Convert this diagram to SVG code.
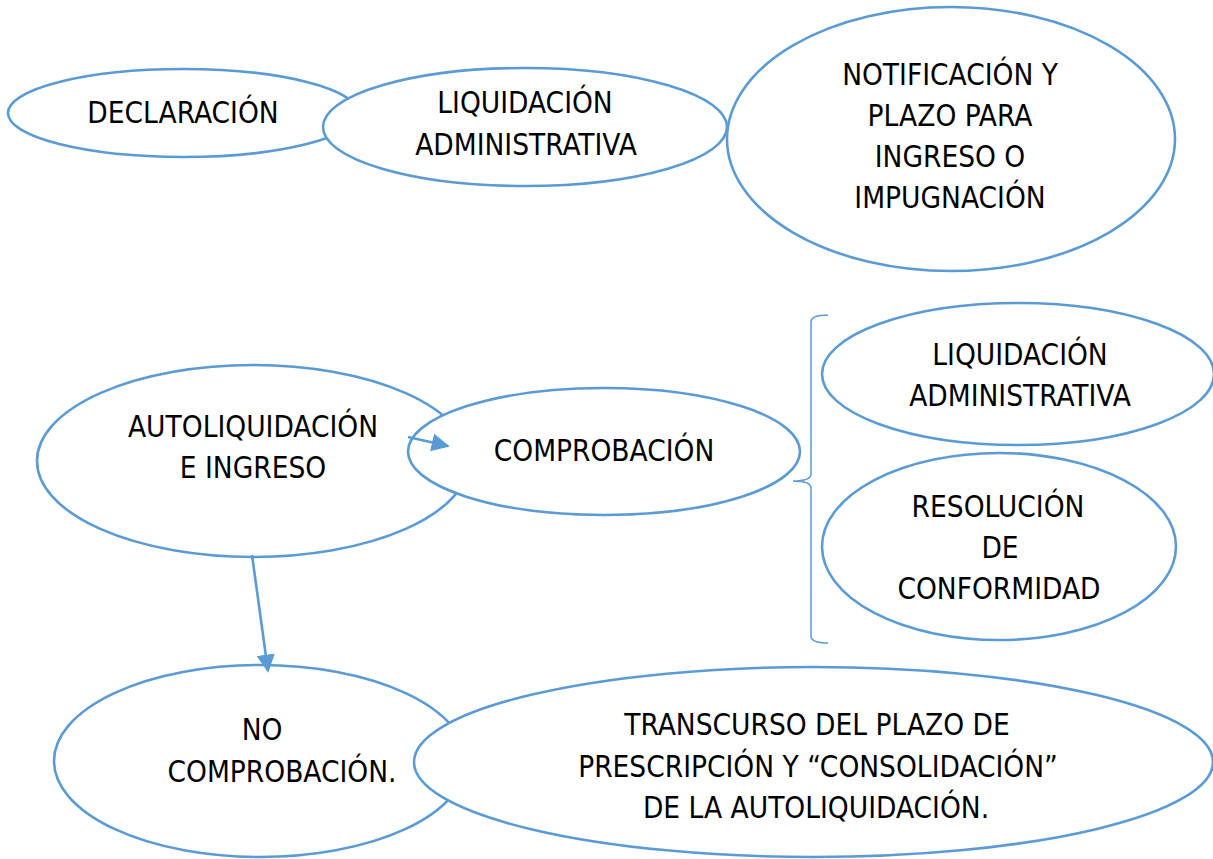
<svg xmlns="http://www.w3.org/2000/svg" width="1213" height="859" viewBox="0 0 1213 859">
<style>
.n{fill:#fff;stroke:#5B9BD5;stroke-width:2.6}
.t{font-family:"DejaVu Sans Condensed","DejaVu Sans",sans-serif;font-size:29.5px;fill:#000;text-anchor:middle}
.c{stroke:#5B9BD5;stroke-width:2.6;fill:none}
</style>
<defs>
<marker id="ah" viewBox="0 0 10 10" refX="9" refY="5" markerWidth="7" markerHeight="7" markerUnits="strokeWidth" orient="auto">
<path d="M0,0 L10,5 L0,10 z" fill="#5B9BD5"/>
</marker>
</defs>
<rect width="1213" height="859" fill="#fff"/>
<g id="declaracion"><ellipse class="n" cx="183" cy="113" rx="175" ry="44"/><text class="t" x="183" y="123">DECLARACIÓN</text></g>
<g id="liquidacion1"><ellipse class="n" cx="525" cy="127" rx="202" ry="59"/><text class="t" x="525" y="113">LIQUIDACIÓN</text><text class="t" x="526" y="155">ADMINISTRATIVA</text></g>
<g id="notificacion"><ellipse class="n" cx="951" cy="139" rx="224" ry="132"/><text class="t" x="950" y="85">NOTIFICACIÓN Y</text><text class="t" x="950" y="126">PLAZO PARA</text><text class="t" x="950" y="167">INGRESO O</text><text class="t" x="950" y="208">IMPUGNACIÓN</text></g>
<g id="autoliquidacion"><ellipse class="n" cx="253" cy="461" rx="216" ry="96"/><text class="t" x="253" y="437">AUTOLIQUIDACIÓN</text><text class="t" x="253" y="478">E INGRESO</text></g>
<g id="comprobacion"><ellipse class="n" cx="604" cy="451.5" rx="196" ry="63.5"/><text class="t" x="604" y="461">COMPROBACIÓN</text></g>
<g id="liquidacion2"><ellipse class="n" cx="1018" cy="374" rx="196" ry="71"/><text class="t" x="1020" y="365">LIQUIDACIÓN</text><text class="t" x="1020" y="406">ADMINISTRATIVA</text></g>
<g id="resolucion"><ellipse class="n" cx="999" cy="546.5" rx="177" ry="93.5"/><text class="t" x="998" y="517">RESOLUCIÓN</text><text class="t" x="1000" y="558">DE</text><text class="t" x="999" y="599">CONFORMIDAD</text></g>
<g id="nocomprobacion"><ellipse class="n" cx="260" cy="761" rx="206" ry="96"/><text class="t" x="262" y="740">NO</text><text class="t" x="282" y="782">COMPROBACIÓN.</text></g>
<g id="transcurso"><ellipse class="n" cx="813.5" cy="762" rx="399.5" ry="95"/><text class="t" x="817" y="735">TRANSCURSO DEL PLAZO DE</text><text class="t" x="818" y="777">PRESCRIPCIÓN Y “CONSOLIDACIÓN”</text><text class="t" x="816" y="818">DE LA AUTOLIQUIDACIÓN.</text></g>
<g id="connectors">
<line class="c" x1="408" y1="437" x2="448" y2="446" marker-end="url(#ah)"/>
<line class="c" x1="252" y1="555" x2="268" y2="671" marker-end="url(#ah)"/>
<path d="M828,315 Q811,315 811,322 L811,474 Q811,481 793,481 Q811,481 811,488 L811,636 Q811,643 828,643" fill="none" stroke="#5B9BD5" stroke-width="1.5"/>
</g>
</svg>
